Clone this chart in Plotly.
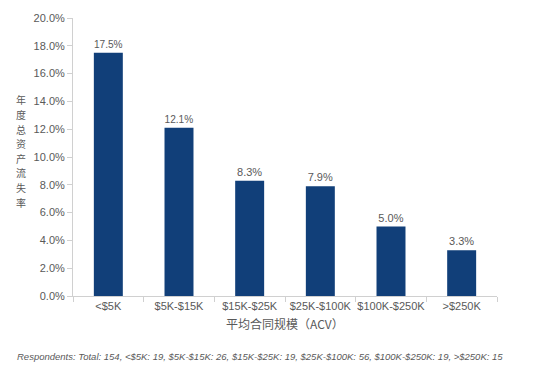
import plotly.graph_objects as go

categories = ["<$5K", "$5K-$15K", "$15K-$25K", "$25K-$100K", "$100K-$250K", ">$250K"]
churn = [17.5, 12.1, 8.3, 7.9, 5.0, 3.3]
y_ticks = [0, 2, 4, 6, 8, 10, 12, 14, 16, 18, 20]
y_tick_labels = [f"{v:.1f}%" for v in y_ticks]
y_title = "年度总资产流失率"
x_title = "平均合同规模（ACV）"
footnote = ("Respondents: Total: 154, <$5K: 19, $5K-$15K: 26, $15K-$25K: 19, "
            "$25K-$100K: 56, $100K-$250K: 19, >$250K: 15")

gray = "#595959"
font = "Liberation Sans, Arial, sans-serif"

W, H = 553, 377
ML, MR, MT, MB = 73, 56, 18, 81
pw, ph = W - ML - MR, H - MT - MB

fig = go.Figure(go.Bar(
    x=categories, y=churn,
    marker=dict(color="#113f79", line=dict(width=0)),
    width=0.41,
    text=[f"{v:.1f}%" for v in churn],
    textposition="outside",
    textfont=dict(color=gray, size=11, family=font),
    cliponaxis=False,
))

annotations = []
# stacked upright y-axis title, one character per annotation
pitch = 14.6
n = len(y_title)
for i, ch in enumerate(y_title):
    ypx = 151 + (i - (n - 1) / 2) * pitch
    annotations.append(dict(
        text=ch, xref="paper", yref="paper",
        x=(21 - ML) / pw, y=(H - MB - ypx) / ph,
        xanchor="center", yanchor="middle", showarrow=False,
        font=dict(size=10, color=gray, family="Noto Sans CJK SC")))

annotations += [
    dict(text=x_title, xref="paper", yref="paper", x=0.5, y=-0.06,
         xanchor="center", yanchor="top", showarrow=False,
         font=dict(size=12, color=gray, family="Noto Sans CJK SC")),
    dict(text="<i>" + footnote + "</i>", xref="paper", yref="paper",
         x=(15 - ML) / pw, y=-0.19, xanchor="left", yanchor="top", showarrow=False,
         font=dict(size=9.5, color=gray, family=font)),
]

fig.update_layout(
    width=W, height=H,
    margin=dict(l=ML, r=MR, t=MT, b=MB, autoexpand=False),
    paper_bgcolor="white", plot_bgcolor="white",
    showlegend=False,
    font=dict(family=font, color=gray, size=11),
    xaxis=dict(
        type="category", showgrid=False, showline=True, linecolor="#d0d0d0", linewidth=1,
        ticks="outside", tickson="boundaries", ticklen=5, tickcolor="#d0d0d0",
        tickangle=0, automargin=False,
        tickfont=dict(size=11, color=gray, family=font),
    ),
    yaxis=dict(
        range=[0, 20], showgrid=False, showline=True, linecolor="#d0d0d0", linewidth=1,
        ticks="outside", ticklen=5, tickcolor="#d0d0d0", automargin=False,
        tickvals=y_ticks, ticktext=y_tick_labels,
        tickfont=dict(size=11, color=gray, family=font), zeroline=False,
    ),
    annotations=annotations,
)

fig.write_html("out.html", config={"displayModeBar": False},
               post_script="document.body.style.margin='0';")
